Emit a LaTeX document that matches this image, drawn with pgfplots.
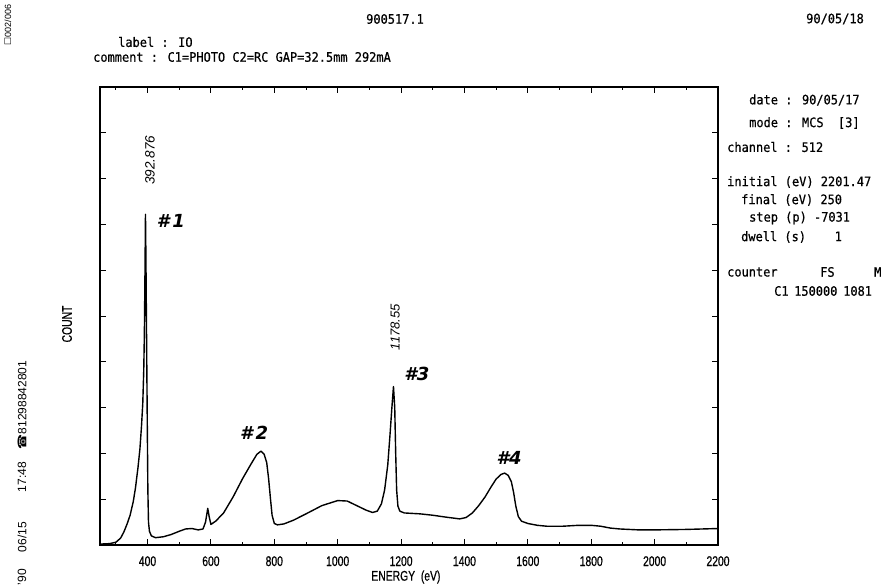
\documentclass[border=0pt]{standalone}
\usepackage{pgfplots}
\pgfplotsset{compat=1.18}
\usepackage{fontspec}
\setmainfont{Liberation Sans}
\newfontfamily\plotfont[FakeStretch=0.74,FakeBold=0.6]{Liberation Sans}
\newfontfamily\monofont[FakeStretch=0.92,FakeBold=0.6]{DejaVu Sans Mono}
\newfontfamily\handfont{DejaVu Sans}
\newfontfamily\symfont{DejaVu Sans}
\newcommand\tickfont{\plotfont\fontsize{14}{14}\selectfont}
\newcommand\pmono{\monofont\fontsize{13}{13}\selectfont}
\begin{document}
\begin{tikzpicture}[x=1pt,y=1pt]
\useasboundingbox (0,0) rectangle (882,587);
\begin{axis}[
  at={(100pt,42pt)}, anchor=south west,
  width=618pt, height=458pt, scale only axis,
  xmin=250, xmax=2200, ymin=0, ymax=10,
  xtick={400,600,...,2200},
  minor xtick={300,500,...,2100},
  ytick={1,2,...,9}, yticklabels={},
  tick align=inside,
  major tick length=6pt, minor tick length=3.5pt,
  axis line style={line width=1.2pt},
  every tick/.style={black, line width=1pt},
  /pgf/number format/assume math mode=true,
  /pgf/number format/1000 sep={},
  xticklabel style={font=\tickfont, anchor=base, yshift=-21pt},
  xlabel={ENERGY~~(eV)},
  xlabel style={font=\tickfont, at={(axis description cs:0.495,-0.0699)}, anchor=center},
  ylabel={COUNT},
  ylabel style={font=\tickfont, at={(axis description cs:-0.0534,0.4825)}, anchor=center},
]
\addplot[black, line width=1.4pt, line join=round] coordinates {
(250,0.02) (280,0.03) (300,0.06) (315,0.15) (325,0.28) (335,0.45) (345,0.65)
(355,0.95) (362,1.25) (370,1.7) (376,2.1) (381,2.6) (385,3.1) (388,3.8)
(390,4.6) (392,6.0) (393.5,7.22) (395,6.2) (397,4.5) (399,2.8) (401,1.2)
(403,0.5) (406,0.3) (412,0.2) (425,0.16) (450,0.18) (475,0.23) (500,0.3)
(520,0.35) (540,0.36) (560,0.33) (575,0.35) (583,0.5) (590,0.8) (595,0.6)
(600,0.45) (615,0.52) (640,0.7) (670,1.05) (700,1.45) (725,1.75) (745,1.98)
(758,2.05) (768,1.98) (776,1.8) (782,1.45) (788,1.0) (793,0.65) (800,0.47)
(810,0.44) (830,0.46) (860,0.54) (900,0.68) (950,0.86) (1000,0.97) (1030,0.96)
(1060,0.86) (1090,0.76) (1110,0.71) (1125,0.74) (1138,0.9) (1148,1.2) (1158,1.75)
(1165,2.4) (1171,3.0) (1176,3.46) (1180,3.0) (1183,2.0) (1186,1.2) (1190,0.85)
(1196,0.74) (1210,0.70) (1260,0.68) (1300,0.65) (1340,0.61) (1385,0.57) (1405,0.60)
(1425,0.70) (1445,0.86) (1465,1.05) (1485,1.28) (1500,1.44) (1515,1.54) (1527,1.57)
(1538,1.52) (1548,1.38) (1555,1.15) (1562,0.85) (1570,0.62) (1580,0.52) (1600,0.47)
(1630,0.43) (1660,0.41) (1710,0.41) (1760,0.43) (1800,0.43) (1830,0.41) (1860,0.37)
(1890,0.35) (1950,0.33) (2000,0.33) (2100,0.34) (2200,0.36)
};
\node[font=\handfont\bfseries\itshape\fontsize{18}{18}\selectfont] at (axis cs:474,7.07) {\#\,1};
\node[font=\handfont\bfseries\itshape\fontsize{18}{18}\selectfont] at (axis cs:736,2.45) {\#\,2};
\node[font=\handfont\bfseries\itshape\fontsize{18}{18}\selectfont] at (axis cs:1250,3.73) {\#3};
\node[font=\handfont\bfseries\itshape\fontsize{18}{18}\selectfont] at (axis cs:1541,1.90) {\#4};
\node[rotate=90, font=\itshape\fontsize{13.5}{13.5}\selectfont] at (axis cs:408,8.4) {392.876};
\node[rotate=90, font=\itshape\fontsize{13}{13}\selectfont] at (axis cs:1181,4.76) {1178.55};
\end{axis}
% header
\node[font=\pmono] at (395,568) {900517.1};
\node[font=\pmono] at (835,568) {90/05/18};
\node[font=\pmono, anchor=west, inner sep=0pt] at (118,545) {label : IO};
\node[font=\pmono, anchor=west, inner sep=0pt] at (93,530) {comment : C1=PHOTO C2=RC GAP=32.5mm 292mA};
% right panel
\node[font=\pmono, anchor=west, inner sep=0pt] at (749,487) {date : 90/05/17};
\node[font=\pmono, anchor=west, inner sep=0pt] at (749,464) {mode : MCS~~[3]};
\node[font=\pmono, anchor=west, inner sep=0pt] at (727,440) {channel : 512};
\node[font=\pmono, anchor=west, inner sep=0pt] at (727,405) {initial (eV) 2201.47};
\node[font=\pmono, anchor=west, inner sep=0pt] at (741,387) {final (eV) 250};
\node[font=\pmono, anchor=west, inner sep=0pt] at (749,369) {step (p) -7031};
\node[font=\pmono, anchor=west, inner sep=0pt] at (741,350) {dwell (s)~~~~1};
\node[font=\pmono, anchor=west, inner sep=0pt] at (727,315) {counter};
\node[font=\pmono, anchor=west, inner sep=0pt] at (820,315) {FS};
\node[font=\pmono, anchor=west, inner sep=0pt] at (874,315) {M};
\node[font=\pmono, anchor=west, inner sep=0pt] at (774,296) {C1};
\node[font=\pmono, anchor=west, inner sep=0pt] at (794,296) {150000};
\node[font=\pmono, anchor=west, inner sep=0pt] at (843,296) {1081};
% fax margins
\node[rotate=90, font=\fontsize{9}{9}\selectfont] at (8,562) {{\symfont\fontsize{9}{9}\selectfont ☐}002/006};
\node[rotate=90, font=\fontsize{12}{12}\selectfont] at (22,10) {'90};
\node[rotate=90, font=\fontsize{12}{12}\selectfont] at (22,50) {06/15};
\node[rotate=90, font=\fontsize{12}{12}\selectfont] at (22,110) {17:48};
\node[rotate=90, font=\fontsize{12}{12}\selectfont] at (22,182) {{\symfont ☎}81298842801};
\end{tikzpicture}
\end{document}
